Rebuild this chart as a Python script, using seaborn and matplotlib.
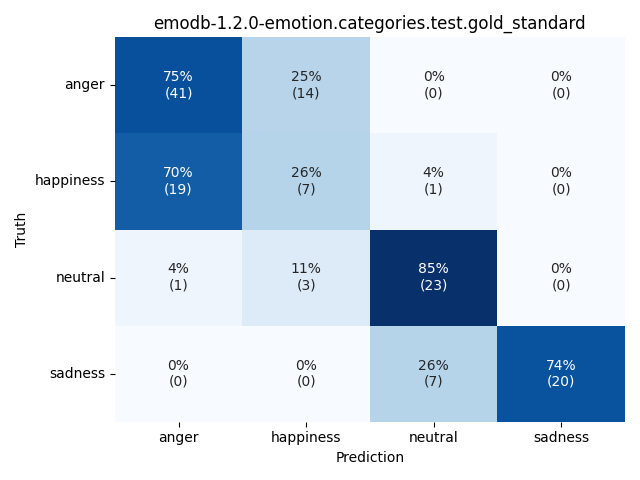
import matplotlib
matplotlib.use("Agg")
import numpy as np
import pandas as pd
import seaborn as sns
from matplotlib import pyplot as plt

labels = ["anger", "happiness", "neutral", "sadness"]
counts = [
    [41, 14, 0, 0],
    [19, 7, 1, 0],
    [1, 3, 23, 0],
    [0, 0, 7, 20],
]
title = "emodb-1.2.0-emotion.categories.test.gold_standard"

cm = np.array(counts)
pct = cm / cm.sum(axis=1, keepdims=True) * 100
annot = np.array(
    [[f"{p:.0f}%\n({c})" for p, c in zip(prow, crow)] for prow, crow in zip(pct, cm)]
)
df = pd.DataFrame(pct, index=labels, columns=labels)

fig, ax = plt.subplots(figsize=(6.4, 4.8), dpi=100)
sns.heatmap(df, annot=annot, fmt="", cmap="Blues", cbar=False, ax=ax)
ax.set_xlabel("Prediction")
ax.set_ylabel("Truth")
ax.set_title(title)
plt.yticks(rotation=0)
plt.tight_layout()
plt.savefig("out.png")
